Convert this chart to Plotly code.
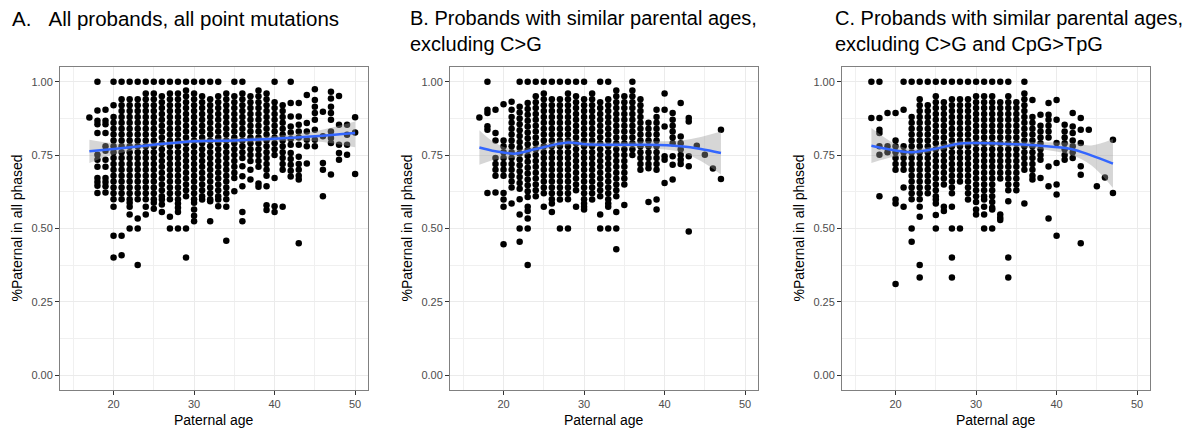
import plotly.graph_objects as go

# ---------------- data ----------------
ages_a = [17, 18, 19, 20, 21, 22, 23, 24, 25, 26, 27, 28, 29, 30, 31, 32, 33,
          34, 35, 36, 37, 38, 39, 40, 41, 42, 43, 44, 45, 46, 47, 48, 49, 50]
pct_a = [
    [0.878],
    [1.0, 0.902, 0.867, 0.855, 0.825, 0.751, 0.734, 0.71, 0.672, 0.658, 0.646, 0.621],
    [0.904, 0.867, 0.855, 0.825, 0.78, 0.765, 0.734, 0.71, 0.672, 0.658, 0.644, 0.623],
    [1.0, 0.92, 0.88, 0.86, 0.84, 0.82, 0.80, 0.78, 0.76, 0.74, 0.72, 0.70, 0.68, 0.66, 0.64, 0.62, 0.60, 0.574, 0.475, 0.401],
    [1.0, 0.94, 0.92, 0.90, 0.88, 0.86, 0.84, 0.82, 0.80, 0.78, 0.76, 0.74, 0.72, 0.70, 0.68, 0.66, 0.64, 0.62, 0.60, 0.475, 0.409],
    [1.0, 0.94, 0.92, 0.90, 0.88, 0.86, 0.84, 0.82, 0.80, 0.78, 0.76, 0.74, 0.72, 0.70, 0.68, 0.66, 0.64, 0.62, 0.60, 0.588, 0.574, 0.548, 0.5],
    [1.0, 0.94, 0.92, 0.90, 0.88, 0.86, 0.84, 0.82, 0.80, 0.78, 0.76, 0.74, 0.72, 0.70, 0.68, 0.66, 0.64, 0.62, 0.60, 0.534, 0.5, 0.376],
    [1.0, 0.96, 0.94, 0.92, 0.90, 0.88, 0.86, 0.84, 0.82, 0.80, 0.78, 0.76, 0.74, 0.72, 0.70, 0.68, 0.66, 0.64, 0.62, 0.60, 0.574, 0.548],
    [1.0, 0.96, 0.94, 0.92, 0.90, 0.88, 0.86, 0.84, 0.82, 0.80, 0.78, 0.76, 0.74, 0.72, 0.70, 0.68, 0.66, 0.64, 0.62, 0.60, 0.588, 0.567],
    [1.0, 0.95, 0.93, 0.91, 0.89, 0.87, 0.85, 0.83, 0.81, 0.79, 0.77, 0.75, 0.73, 0.71, 0.69, 0.67, 0.65, 0.63, 0.61, 0.599, 0.582, 0.556],
    [1.0, 0.96, 0.94, 0.92, 0.90, 0.88, 0.86, 0.84, 0.82, 0.80, 0.78, 0.76, 0.74, 0.72, 0.70, 0.68, 0.66, 0.64, 0.62, 0.60, 0.54, 0.5],
    [1.0, 0.96, 0.94, 0.92, 0.90, 0.88, 0.86, 0.84, 0.82, 0.80, 0.78, 0.76, 0.74, 0.72, 0.70, 0.68, 0.66, 0.64, 0.62, 0.60, 0.585, 0.571, 0.556, 0.5],
    [1.0, 0.97, 0.95, 0.93, 0.91, 0.89, 0.87, 0.85, 0.83, 0.81, 0.79, 0.77, 0.75, 0.73, 0.71, 0.69, 0.67, 0.65, 0.63, 0.61, 0.5, 0.401],
    [1.0, 0.96, 0.94, 0.92, 0.90, 0.88, 0.86, 0.84, 0.82, 0.80, 0.78, 0.76, 0.74, 0.72, 0.70, 0.68, 0.66, 0.64, 0.62, 0.60, 0.588, 0.565, 0.543, 0.525],
    [1.0, 0.95, 0.93, 0.91, 0.89, 0.87, 0.85, 0.83, 0.81, 0.79, 0.77, 0.75, 0.73, 0.71, 0.69, 0.67, 0.65, 0.63, 0.61, 0.599],
    [1.0, 0.94, 0.92, 0.90, 0.88, 0.86, 0.84, 0.82, 0.80, 0.78, 0.76, 0.74, 0.72, 0.70, 0.68, 0.66, 0.64, 0.62, 0.60, 0.593, 0.525],
    [1.0, 0.95, 0.93, 0.91, 0.89, 0.87, 0.85, 0.83, 0.81, 0.79, 0.77, 0.75, 0.73, 0.71, 0.69, 0.67, 0.65, 0.63, 0.61, 0.599, 0.576],
    [0.96, 0.94, 0.92, 0.90, 0.88, 0.86, 0.84, 0.82, 0.80, 0.78, 0.76, 0.74, 0.72, 0.70, 0.68, 0.66, 0.64, 0.62, 0.60, 0.574, 0.458],
    [1.0, 0.95, 0.93, 0.91, 0.89, 0.87, 0.85, 0.83, 0.81, 0.79, 0.77, 0.75, 0.73, 0.71, 0.69, 0.672, 0.627],
    [1.0, 0.96, 0.94, 0.92, 0.90, 0.88, 0.86, 0.84, 0.82, 0.80, 0.78, 0.76, 0.74, 0.712, 0.678, 0.644, 0.556, 0.525],
    [0.95, 0.93, 0.91, 0.89, 0.87, 0.85, 0.83, 0.81, 0.79, 0.77, 0.75, 0.73, 0.70, 0.667],
    [0.97, 0.95, 0.93, 0.91, 0.89, 0.87, 0.85, 0.83, 0.81, 0.79, 0.77, 0.75, 0.73, 0.71, 0.653, 0.642],
    [0.96, 0.94, 0.92, 0.90, 0.88, 0.86, 0.84, 0.82, 0.80, 0.78, 0.76, 0.74, 0.72, 0.70, 0.68, 0.644, 0.579, 0.563],
    [1.0, 0.93, 0.91, 0.89, 0.87, 0.85, 0.83, 0.81, 0.79, 0.77, 0.75, 0.672, 0.576, 0.556],
    [0.92, 0.90, 0.88, 0.86, 0.84, 0.82, 0.80, 0.78, 0.76, 0.74, 0.72, 0.70, 0.574],
    [1.0, 0.927, 0.881, 0.847, 0.827, 0.805, 0.785, 0.757, 0.737, 0.717, 0.697, 0.677],
    [0.927, 0.881, 0.853, 0.83, 0.81, 0.785, 0.744, 0.72, 0.70, 0.68, 0.667, 0.45],
    [0.955, 0.859, 0.83, 0.802, 0.78, 0.721],
    [0.974, 0.938, 0.915, 0.893, 0.87, 0.836, 0.802, 0.78],
    [0.898, 0.814, 0.723, 0.70, 0.61],
    [0.966, 0.943, 0.915, 0.893, 0.87, 0.83, 0.808, 0.791, 0.684],
    [0.951, 0.853, 0.785, 0.757, 0.734],
    [0.853, 0.819, 0.785, 0.751],
    [0.879, 0.827, 0.686],
]

ages_b = [17, 18, 19, 20, 21, 22, 23, 24, 25, 26, 27, 28, 29, 30, 31, 32,
          33, 34, 35, 36, 37, 38, 39, 40, 41, 42, 43, 44, 45, 46, 47]
pct_b = [
    [0.878],
    [1.0, 0.904, 0.893, 0.848, 0.836, 0.621],
    [0.904, 0.825, 0.80, 0.74, 0.72, 0.70, 0.68, 0.623],
    [0.923, 0.80, 0.78, 0.76, 0.74, 0.72, 0.70, 0.68, 0.621, 0.599, 0.574, 0.446],
    [0.932, 0.904, 0.88, 0.86, 0.84, 0.82, 0.80, 0.78, 0.76, 0.74, 0.72, 0.70, 0.68, 0.66, 0.64, 0.585],
    [1.0, 0.915, 0.895, 0.875, 0.855, 0.835, 0.815, 0.795, 0.775, 0.755, 0.735, 0.715, 0.695, 0.675, 0.655, 0.635, 0.60, 0.548, 0.5, 0.455],
    [1.0, 0.927, 0.907, 0.887, 0.867, 0.847, 0.827, 0.807, 0.787, 0.767, 0.747, 0.727, 0.707, 0.687, 0.667, 0.647, 0.627, 0.607, 0.574, 0.56, 0.534, 0.5, 0.376],
    [1.0, 0.95, 0.93, 0.91, 0.89, 0.87, 0.85, 0.83, 0.81, 0.79, 0.77, 0.75, 0.73, 0.71, 0.69, 0.67, 0.65, 0.63, 0.61],
    [1.0, 0.96, 0.94, 0.92, 0.90, 0.88, 0.86, 0.84, 0.82, 0.80, 0.78, 0.76, 0.74, 0.72, 0.70, 0.68, 0.66, 0.64, 0.62, 0.574],
    [1.0, 0.94, 0.92, 0.90, 0.88, 0.86, 0.84, 0.82, 0.80, 0.78, 0.76, 0.74, 0.72, 0.70, 0.68, 0.66, 0.64, 0.62, 0.60, 0.585, 0.556],
    [1.0, 0.94, 0.92, 0.90, 0.88, 0.86, 0.84, 0.82, 0.80, 0.78, 0.76, 0.74, 0.72, 0.70, 0.68, 0.66, 0.64, 0.62, 0.599, 0.5],
    [1.0, 0.96, 0.94, 0.92, 0.90, 0.88, 0.86, 0.84, 0.82, 0.80, 0.78, 0.76, 0.74, 0.72, 0.70, 0.68, 0.66, 0.64, 0.62, 0.60, 0.5],
    [1.0, 0.95, 0.93, 0.91, 0.89, 0.87, 0.85, 0.83, 0.81, 0.79, 0.77, 0.75, 0.73, 0.71, 0.69, 0.67, 0.65, 0.63, 0.574],
    [1.0, 0.94, 0.92, 0.90, 0.88, 0.86, 0.84, 0.82, 0.80, 0.78, 0.76, 0.74, 0.72, 0.70, 0.68, 0.66, 0.64, 0.62, 0.60, 0.585, 0.574, 0.565],
    [0.96, 0.94, 0.92, 0.90, 0.88, 0.86, 0.84, 0.82, 0.80, 0.78, 0.76, 0.74, 0.72, 0.70, 0.68, 0.66, 0.64, 0.62, 0.599],
    [1.0, 0.93, 0.91, 0.89, 0.87, 0.85, 0.83, 0.81, 0.79, 0.77, 0.75, 0.73, 0.71, 0.69, 0.67, 0.65, 0.63, 0.61, 0.548, 0.5],
    [1.0, 0.94, 0.92, 0.90, 0.88, 0.86, 0.84, 0.82, 0.80, 0.78, 0.76, 0.74, 0.72, 0.70, 0.68, 0.66, 0.64, 0.62, 0.60, 0.585, 0.574, 0.5],
    [0.97, 0.95, 0.93, 0.91, 0.89, 0.87, 0.85, 0.83, 0.81, 0.79, 0.77, 0.75, 0.73, 0.71, 0.69, 0.67, 0.65, 0.63, 0.61, 0.556, 0.5, 0.429],
    [0.95, 0.93, 0.91, 0.89, 0.87, 0.85, 0.83, 0.81, 0.79, 0.77, 0.75, 0.73, 0.71, 0.69, 0.67, 0.65, 0.58],
    [1.0, 0.97, 0.95, 0.93, 0.91, 0.89, 0.87, 0.85, 0.83, 0.81, 0.79, 0.77, 0.75],
    [0.94, 0.92, 0.90, 0.88, 0.86, 0.84, 0.82, 0.80, 0.78, 0.76, 0.74, 0.72, 0.70],
    [0.86, 0.84, 0.82, 0.80, 0.78, 0.76, 0.74, 0.72, 0.705, 0.59],
    [0.904, 0.88, 0.86, 0.84, 0.82, 0.80, 0.78, 0.76, 0.74, 0.72, 0.70, 0.599, 0.565],
    [0.96, 0.904, 0.847, 0.746, 0.734, 0.655],
    [0.893, 0.87, 0.85, 0.83, 0.81, 0.79, 0.746, 0.717, 0.667],
    [0.927, 0.813, 0.79, 0.77, 0.75, 0.734, 0.72],
    [0.876, 0.864, 0.746, 0.712, 0.49],
    [0.782],
    [0.751],
    [0.704],
    [0.836, 0.669],
]

ages_c = [17, 18, 19, 20, 21, 22, 23, 24, 25, 26, 27, 28, 29, 30, 31, 32,
          33, 34, 35, 36, 37, 38, 39, 40, 41, 42, 43, 44, 45, 46, 47]
pct_c = [
    [1.0, 0.876],
    [1.0, 0.876, 0.836, 0.825, 0.78, 0.751, 0.61],
    [0.893, 0.78, 0.76],
    [0.893, 0.80, 0.78, 0.76, 0.74, 0.72, 0.70, 0.599, 0.585, 0.311],
    [1.0, 0.904, 0.78, 0.76, 0.74, 0.72, 0.70, 0.64, 0.574],
    [1.0, 0.88, 0.86, 0.84, 0.82, 0.80, 0.78, 0.76, 0.74, 0.72, 0.70, 0.68, 0.66, 0.64, 0.62, 0.60, 0.5, 0.455],
    [1.0, 0.94, 0.92, 0.90, 0.88, 0.86, 0.84, 0.82, 0.80, 0.78, 0.76, 0.74, 0.72, 0.70, 0.68, 0.66, 0.64, 0.62, 0.60, 0.574, 0.54, 0.376, 0.333],
    [1.0, 0.92, 0.90, 0.88, 0.86, 0.84, 0.82, 0.80, 0.78, 0.76, 0.74, 0.72, 0.70, 0.68, 0.66, 0.64, 0.62],
    [1.0, 0.95, 0.93, 0.91, 0.89, 0.87, 0.85, 0.83, 0.81, 0.79, 0.77, 0.75, 0.73, 0.71, 0.69, 0.67, 0.65, 0.63, 0.61, 0.599, 0.585, 0.546, 0.5],
    [1.0, 0.93, 0.91, 0.89, 0.87, 0.85, 0.83, 0.81, 0.79, 0.77, 0.75, 0.73, 0.71, 0.69, 0.67, 0.65, 0.574, 0.56],
    [1.0, 0.94, 0.92, 0.90, 0.88, 0.86, 0.84, 0.82, 0.80, 0.78, 0.76, 0.74, 0.72, 0.70, 0.68, 0.66, 0.64, 0.62, 0.574, 0.5, 0.401, 0.333],
    [1.0, 0.94, 0.92, 0.90, 0.88, 0.86, 0.84, 0.82, 0.80, 0.78, 0.76, 0.74, 0.72, 0.70, 0.68, 0.66, 0.5],
    [1.0, 0.94, 0.92, 0.90, 0.88, 0.86, 0.84, 0.82, 0.80, 0.78, 0.76, 0.74, 0.72, 0.70, 0.68, 0.66, 0.64, 0.62, 0.599],
    [1.0, 0.95, 0.93, 0.91, 0.89, 0.87, 0.85, 0.83, 0.81, 0.79, 0.77, 0.75, 0.73, 0.71, 0.69, 0.67, 0.65, 0.63, 0.61, 0.59, 0.565, 0.548],
    [1.0, 0.95, 0.93, 0.91, 0.89, 0.87, 0.85, 0.83, 0.81, 0.79, 0.77, 0.75, 0.73, 0.71, 0.69, 0.67, 0.65, 0.63, 0.61, 0.599, 0.574, 0.548, 0.5],
    [1.0, 0.95, 0.93, 0.91, 0.89, 0.87, 0.85, 0.83, 0.81, 0.79, 0.77, 0.75, 0.73, 0.71, 0.69, 0.67, 0.65, 0.63, 0.61, 0.59, 0.571, 0.565, 0.5],
    [1.0, 0.93, 0.91, 0.89, 0.87, 0.85, 0.83, 0.81, 0.79, 0.77, 0.75, 0.73, 0.71, 0.69, 0.67, 0.548, 0.537, 0.529],
    [1.0, 0.95, 0.93, 0.91, 0.89, 0.87, 0.85, 0.83, 0.81, 0.79, 0.77, 0.75, 0.73, 0.71, 0.69, 0.67, 0.65, 0.63, 0.593, 0.401, 0.333],
    [0.93, 0.91, 0.89, 0.87, 0.85, 0.83, 0.81, 0.79, 0.77, 0.75, 0.73, 0.71, 0.69, 0.67, 0.65, 0.63],
    [1.0, 0.96, 0.94, 0.92, 0.90, 0.88, 0.86, 0.84, 0.82, 0.80, 0.78, 0.76, 0.74, 0.72, 0.70, 0.585],
    [0.938, 0.88, 0.86, 0.84, 0.82, 0.80, 0.78, 0.76, 0.74, 0.72, 0.70, 0.68, 0.667],
    [0.887, 0.85, 0.83, 0.81, 0.79, 0.77, 0.75, 0.734, 0.672],
    [0.927, 0.887, 0.87, 0.85, 0.83, 0.81, 0.711, 0.644, 0.534],
    [0.938, 0.87, 0.791, 0.723, 0.65, 0.616, 0.475],
    [0.853, 0.83, 0.81, 0.79, 0.77, 0.75, 0.734],
    [0.893, 0.847, 0.825, 0.80, 0.78, 0.76, 0.74],
    [0.876, 0.836, 0.791, 0.712, 0.683, 0.45],
    [0.836],
    [0.644],
    [0.674],
    [0.802, 0.621],
]

# loess fit and its confidence band
fit_age_a = [17, 20, 25, 30, 35, 40, 45, 50]
fit_a = [0.763, 0.771, 0.785, 0.797, 0.800, 0.806, 0.814, 0.825]
lo_a = [0.723, 0.752, 0.777, 0.790, 0.792, 0.797, 0.797, 0.777]
hi_a = [0.802, 0.790, 0.793, 0.804, 0.808, 0.815, 0.831, 0.864]

fit_age_b = [17, 19, 21.5, 24, 28, 30, 34, 38, 42, 44.5, 47]
fit_b = [0.776, 0.763, 0.755, 0.771, 0.793, 0.787, 0.785, 0.785, 0.780, 0.771, 0.757]
lo_b = [0.717, 0.735, 0.742, 0.760, 0.783, 0.778, 0.776, 0.773, 0.760, 0.730, 0.684]
hi_b = [0.835, 0.791, 0.768, 0.782, 0.803, 0.796, 0.794, 0.797, 0.800, 0.812, 0.830]

fit_age_c = [17, 20, 22, 24.8, 27.7, 29.8, 34, 38, 41.8, 44.3, 47]
fit_c = [0.782, 0.766, 0.760, 0.771, 0.788, 0.791, 0.788, 0.782, 0.771, 0.749, 0.721]
lo_c = [0.723, 0.745, 0.749, 0.761, 0.779, 0.783, 0.779, 0.770, 0.750, 0.715, 0.638]
hi_c = [0.842, 0.787, 0.771, 0.781, 0.797, 0.799, 0.797, 0.794, 0.792, 0.783, 0.805]

titles = ["A.\u00a0\u00a0\u00a0All probands, all point mutations",
          "B. Probands with similar parental ages,<br>excluding C>G",
          "C. Probands with similar parental ages,<br>excluding C>G and CpG>TpG"]
x_ticks = [20, 30, 40, 50]
y_ticks = [0.0, 0.25, 0.50, 0.75, 1.0]
y_tick_text = ["0.00", "0.25", "0.50", "0.75", "1.00"]

# ---------------- figure ----------------
W, H = 1200, 430
FONT = "Liberation Sans, Arial, Helvetica, sans-serif"
panel_px = [(60, 368), (450, 758), (842, 1150)]
top_px, bot_px = 67, 390
ydom = [(H - bot_px) / H, (H - top_px) / H]

fig = go.Figure()
panels = [
    (ages_a, pct_a, fit_age_a, fit_a, lo_a, hi_a),
    (ages_b, pct_b, fit_age_b, fit_b, lo_b, hi_b),
    (ages_c, pct_c, fit_age_c, fit_c, lo_c, hi_c),
]
for i, (ages, pct, fx, fy, flo, fhi) in enumerate(panels):
    xa = "x" if i == 0 else f"x{i+1}"
    ya = "y" if i == 0 else f"y{i+1}"
    xs, ys = [], []
    for age, vals in zip(ages, pct):
        for v in vals:
            xs.append(age)
            ys.append(v)
    fig.add_trace(go.Scatter(x=xs, y=ys, mode="markers", xaxis=xa, yaxis=ya,
                             marker=dict(color="black", size=6.5, line=dict(width=0)),
                             showlegend=False, hoverinfo="skip"))
    fig.add_trace(go.Scatter(x=fx, y=flo, mode="lines", xaxis=xa, yaxis=ya,
                             line=dict(width=0, shape="spline", color="rgba(0,0,0,0)"),
                             showlegend=False, hoverinfo="skip"))
    fig.add_trace(go.Scatter(x=fx, y=fhi, mode="lines", xaxis=xa, yaxis=ya,
                             line=dict(width=0, shape="spline", color="rgba(0,0,0,0)"),
                             fill="tonexty", fillcolor="rgba(153,153,153,0.4)",
                             showlegend=False, hoverinfo="skip"))
    fig.add_trace(go.Scatter(x=fx, y=fy, mode="lines", xaxis=xa, yaxis=ya,
                             line=dict(width=2.5, shape="spline", color="#3366FF"),
                             showlegend=False, hoverinfo="skip"))

    x0, x1 = panel_px[i]
    xaxis = dict(domain=[x0 / W, x1 / W], range=[13.35, 51.6], anchor=ya,
                 tickmode="array", tickvals=x_ticks, ticks="outside", ticklen=4,
                 tickcolor="#333333", tickwidth=1,
                 tickfont=dict(family=FONT, size=11, color="#4d4d4d"),
                 showgrid=True, gridcolor="#ebebeb", gridwidth=1,
                 minor=dict(tickmode="array", tickvals=[15, 25, 35, 45], showgrid=True,
                            gridcolor="#f0f0f0", gridwidth=0.6, ticks=""),
                 showline=True, mirror=True, linecolor="#808080", linewidth=1,
                 zeroline=False, fixedrange=True)
    yaxis = dict(domain=ydom, range=[-0.05, 1.05], anchor=xa,
                 tickmode="array", tickvals=y_ticks, ticktext=y_tick_text,
                 ticks="outside", ticklen=4, tickcolor="#333333", tickwidth=1,
                 tickfont=dict(family=FONT, size=11, color="#4d4d4d"),
                 showgrid=True, gridcolor="#ebebeb", gridwidth=1,
                 minor=dict(tickmode="array", tickvals=[0.125, 0.375, 0.625, 0.875],
                            showgrid=True, gridcolor="#f0f0f0", gridwidth=0.6, ticks=""),
                 showline=True, mirror=True, linecolor="#808080", linewidth=1,
                 zeroline=False, fixedrange=True)
    fig.update_layout({("xaxis" if i == 0 else f"xaxis{i+1}"): xaxis,
                       ("yaxis" if i == 0 else f"yaxis{i+1}"): yaxis})

annotations = []
title_x = [10, 408, 833]
title_y = [18.5, 31.5, 31.5]
title_size = [20.5, 20, 20]
for i in range(3):
    annotations.append(dict(text=titles[i], xref="paper", yref="paper",
                            x=title_x[i] / W, y=(H - title_y[i]) / H,
                            xanchor="left", yanchor="middle", align="left",
                            showarrow=False,
                            font=dict(family=FONT, size=title_size[i], color="black")))
    x0, x1 = panel_px[i]
    annotations.append(dict(text="Paternal age", xref="paper", yref="paper",
                            x=(x0 + x1) / 2 / W, y=(H - 420) / H,
                            xanchor="center", yanchor="middle", showarrow=False,
                            font=dict(family=FONT, size=14, color="black")))
    annotations.append(dict(text="%Paternal in all phased", xref="paper", yref="paper",
                            x=(x0 - 44) / W, y=(H - (top_px + bot_px) / 2) / H,
                            xanchor="center", yanchor="middle", textangle=-90,
                            showarrow=False,
                            font=dict(family=FONT, size=14, color="black")))

fig.update_layout(width=W, height=H, margin=dict(l=0, r=0, t=0, b=0),
                  template="none", paper_bgcolor="white", plot_bgcolor="white",
                  showlegend=False, annotations=annotations)

fig.write_html("out.html", config={"displayModeBar": False},
               post_script="document.body.style.margin='0';document.body.style.padding='0';")
